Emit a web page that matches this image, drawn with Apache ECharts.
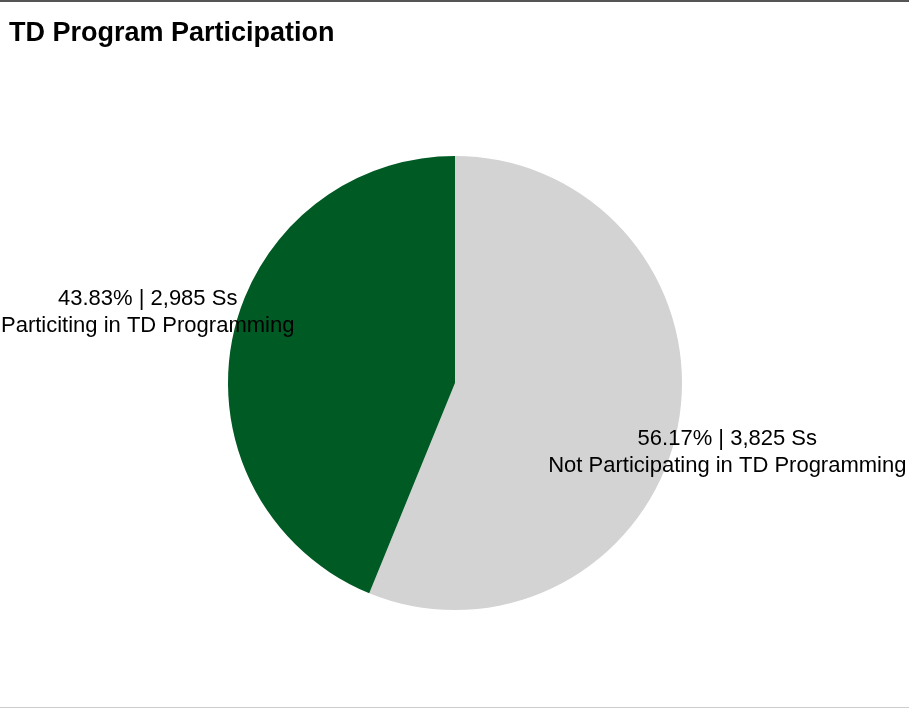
<!DOCTYPE html>
<html>
<head>
<meta charset="utf-8">
<script src="https://cdn.jsdelivr.net/npm/echarts@6/dist/echarts.min.js"></script>
<style>
html,body{margin:0;padding:0;background:#fff;}
#wrap{width:909px;height:708px;box-sizing:border-box;border-top:2px solid #555;border-bottom:1px solid #ccc;}
#chart{width:909px;height:705px;}
</style>
</head>
<body>
<div id="wrap"><div id="chart"></div></div>
<script>
const categories = ['Not Participating in TD Programming', 'Particiting in TD Programming'];
const students = [3825, 2985];
const percents = ['56.17%', '43.83%'];
const colors = ['#D3D3D3', '#005A24'];

const chart = echarts.init(document.getElementById('chart'));
const data = categories.map((name, i) => ({
  name: name,
  value: students[i],
  itemStyle: { color: colors[i] }
}));
const offsets = [[158, 47], [-193, -48]];
chart.setOption({
  animation: false,
  title: {
    text: 'TD Program Participation',
    left: 4,
    top: 13,
    textStyle: { fontFamily: 'Liberation Sans', fontWeight: 'bold', fontSize: 27, color: '#000' }
  },
  series: [{
    type: 'pie',
    center: [455, 381],
    radius: 227,
    startAngle: 90,
    clockwise: true,
    data: data,
    label: {
      position: 'inside',
      fontFamily: 'Liberation Sans',
      fontSize: 22,
      lineHeight: 27,
      color: '#000',
      formatter: p => percents[p.dataIndex] + ' | ' + students[p.dataIndex].toLocaleString('en-US') + ' Ss\n' + p.name
    },
    labelLine: { show: false },
    labelLayout: p => ({ dx: offsets[p.dataIndex][0], dy: offsets[p.dataIndex][1] }),
    emphasis: { disabled: true }
  }]
});
</script>
</body>
</html>
